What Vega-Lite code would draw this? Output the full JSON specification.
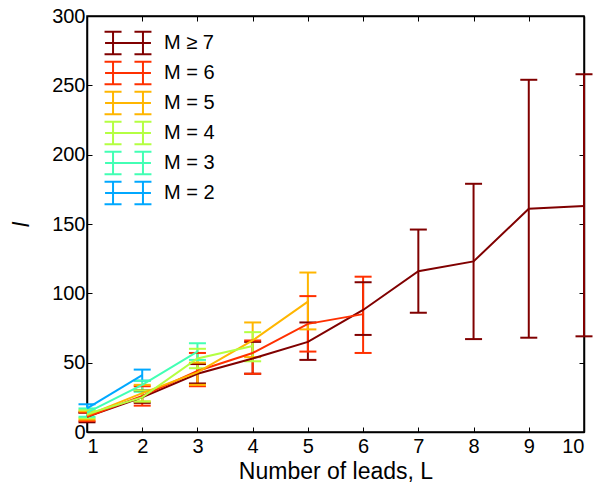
{
  "$schema": "https://vega.github.io/schema/vega-lite/v6.json",
  "width": 497,
  "height": 416,
  "autosize": "none",
  "padding": {"left": 87, "top": 16, "right": 13, "bottom": 59},
  "config": {
    "font": "Liberation Sans",
    "view": {"stroke": "black", "strokeWidth": 1.5},
    "axis": {"grid": false, "domainColor": "black", "domainWidth": 1.5, "tickColor": "black", "tickSize": -5, "tickWidth": 1, "labelColor": "black", "titleColor": "black", "labelFontSize": 20, "titleFontSize": 23, "titleFontWeight": "normal"}
  },
  "data": {"values": [
    {"M": "M ≥ 7", "L": 1, "mean": 11, "lo": 7, "hi": 14},
    {"M": "M ≥ 7", "L": 2, "mean": 25, "lo": 21, "hi": 30},
    {"M": "M ≥ 7", "L": 3, "mean": 42, "lo": 35, "hi": 49},
    {"M": "M ≥ 7", "L": 4, "mean": 53, "lo": 42, "hi": 65},
    {"M": "M ≥ 7", "L": 5, "mean": 65, "lo": 52, "hi": 79},
    {"M": "M ≥ 7", "L": 6, "mean": 88, "lo": 70, "hi": 108},
    {"M": "M ≥ 7", "L": 7, "mean": 116, "lo": 86, "hi": 146},
    {"M": "M ≥ 7", "L": 8, "mean": 123, "lo": 67, "hi": 179},
    {"M": "M ≥ 7", "L": 9, "mean": 161, "lo": 68, "hi": 254},
    {"M": "M ≥ 7", "L": 10, "mean": 163, "lo": 69, "hi": 258},
    {"M": "M = 6", "L": 1, "mean": 11, "lo": 8, "hi": 14},
    {"M": "M = 6", "L": 2, "mean": 26, "lo": 19, "hi": 33},
    {"M": "M = 6", "L": 3, "mean": 44, "lo": 33, "hi": 57},
    {"M": "M = 6", "L": 4, "mean": 57, "lo": 42, "hi": 66},
    {"M": "M = 6", "L": 5, "mean": 78, "lo": 58, "hi": 98},
    {"M": "M = 6", "L": 6, "mean": 85, "lo": 57, "hi": 112},
    {"M": "M = 5", "L": 1, "mean": 12, "lo": 9, "hi": 15},
    {"M": "M = 5", "L": 2, "mean": 28, "lo": 22, "hi": 34},
    {"M": "M = 5", "L": 3, "mean": 43, "lo": 34, "hi": 50},
    {"M": "M = 5", "L": 4, "mean": 66, "lo": 54, "hi": 79},
    {"M": "M = 5", "L": 5, "mean": 94, "lo": 74, "hi": 115},
    {"M": "M = 4", "L": 1, "mean": 13, "lo": 10, "hi": 16},
    {"M": "M = 4", "L": 2, "mean": 25, "lo": 22, "hi": 30},
    {"M": "M = 4", "L": 3, "mean": 53, "lo": 46, "hi": 60},
    {"M": "M = 4", "L": 4, "mean": 62, "lo": 51, "hi": 72},
    {"M": "M = 3", "L": 1, "mean": 14, "lo": 11, "hi": 17},
    {"M": "M = 3", "L": 2, "mean": 34, "lo": 29, "hi": 37},
    {"M": "M = 3", "L": 3, "mean": 58, "lo": 52, "hi": 64},
    {"M": "M = 2", "L": 1, "mean": 17, "lo": 14, "hi": 20},
    {"M": "M = 2", "L": 2, "mean": 41, "lo": 37, "hi": 45}
  ]},
  "encoding": {
    "x": {"field": "L", "type": "quantitative", "scale": {"domain": [1, 10], "nice": false, "zero": false}},
    "color": {
      "field": "M", "type": "nominal",
      "scale": {"domain": ["M ≥ 7", "M = 6", "M = 5", "M = 4", "M = 3", "M = 2"], "range": ["#800000", "#ff3000", "#ffb600", "#b4ff42", "#42ffb4", "#00a8ff"]},
      "legend": {
        "title": null, "orient": "none", "legendX": 31, "legendY": 17, "padding": 0,
        "symbolType": "M-2.7,0L2.7,0M-1.76,-1.33L-1.76,1.33M1.76,-1.33L1.76,1.33M-2.76,-1.33L-0.76,-1.33M-2.76,1.33L-0.76,1.33M0.76,-1.33L2.76,-1.33M0.76,1.33L2.76,1.33",
        "symbolSize": 289, "symbolStrokeWidth": 2, "symbolFillColor": "transparent", "symbolOpacity": 1,
        "labelFontSize": 20, "labelColor": "black", "labelOffset": 26, "rowPadding": -2
      }
    }
  },
  "layer": [
    {
      "mark": {"type": "rule", "strokeWidth": 2},
      "encoding": {
        "x": {"field": "L", "type": "quantitative", "axis": {"values": [1,2,3,4,5,6,7,8,9,10], "title": "Number of leads, L", "labelPadding": 9, "titlePadding": 4}},
        "y": {"field": "lo", "type": "quantitative", "scale": {"domain": [0, 300], "nice": false}, "axis": {"values": [0,50,100,150,200,250,300], "title": "I", "titleFontStyle": "italic", "labelPadding": 7, "titlePadding": 18}},
        "y2": {"field": "hi"}
      }
    },
    {
      "mark": {"type": "tick", "orient": "horizontal", "size": 17, "thickness": 2, "opacity": 1},
      "encoding": {
        "x": {"field": "L", "type": "quantitative", "axis": {"orient": "top", "values": [1,2,3,4,5,6,7,8,9,10], "labels": false, "title": null}},
        "y": {"field": "lo", "type": "quantitative", "axis": {"orient": "right", "values": [0,50,100,150,200,250,300], "labels": false, "title": null}}
      }
    },
    {
      "mark": {"type": "tick", "orient": "horizontal", "size": 17, "thickness": 2, "opacity": 1},
      "encoding": {
        "x": {"field": "L", "type": "quantitative", "axis": null},
        "y": {"field": "hi", "type": "quantitative", "axis": null}
      }
    },
    {
      "mark": {"type": "line", "strokeWidth": 2},
      "encoding": {
        "x": {"field": "L", "type": "quantitative", "axis": null},
        "y": {"field": "mean", "type": "quantitative", "axis": null}
      }
    }
  ],
  "resolve": {"axis": {"x": "independent", "y": "independent"}}
}
